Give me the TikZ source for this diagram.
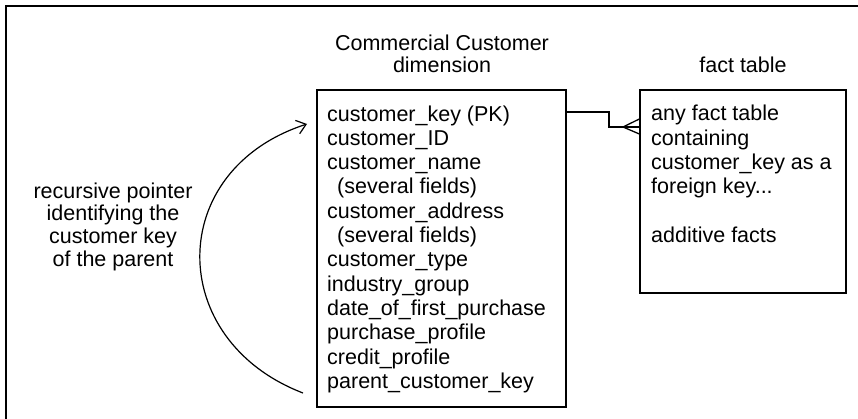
\documentclass[tikz,border=0pt]{standalone}
\usepackage{fontspec}
\setmainfont{Liberation Sans}
\usetikzlibrary{arrows.meta}

\tikzset{
  tablebox/.style={draw, line width=1.3pt, inner sep=0pt},
  tabletext/.style={anchor=base west, inner sep=0pt, align=left,
    font=\fontsize{21.5}{24.3}\selectfont},
  titletext/.style={anchor=base, inner sep=0pt, align=center,
    font=\fontsize{21.5}{22.5}\selectfont},
}

\begin{document}
\begin{tikzpicture}[x=1pt, y=-1pt]

  \useasboundingbox (0,0) rectangle (858,419);

  % Outer frame
  \draw[line width=2pt] (6,419) -- (6,6) -- (858,6);

  % Titles (base = last line)
  \node[titletext] (dimtitle) at (442, 73) {Commercial Customer\\dimension};
  \node[titletext] (facttitle) at (743, 73) {fact table};

  % Dimension box
  \node[tablebox, minimum width=249pt, minimum height=317pt] (dim) at (441.5, 248.5) {};
  \node[tabletext] (dimtext) at (327, 388.3) {customer\_key (PK)\\
    customer\_ID\\
    customer\_name\\
    \hspace{10pt}(several fields)\\
    customer\_address\\
    \hspace{10pt}(several fields)\\
    customer\_type\\
    industry\_group\\
    date\_of\_first\_purchase\\
    purchase\_profile\\
    credit\_profile\\
    parent\_customer\_key};

  % Fact box
  \node[tablebox, minimum width=206pt, minimum height=203pt] (fact) at (743, 191.5) {};
  \node[tabletext] (facttext) at (651, 242.5) {any fact table\\
    containing\\
    customer\_key as a\\
    foreign key...\\[24.3pt]
    additive facts};

  % Foreign key link with crow's foot
  \coordinate (crow) at (623, 127);
  \draw[line width=1.3pt] (dim.east |- 0,112) -- (609,112) -- (609,127) -- (fact.west |- 0,127);
  \draw[line width=1.3pt] (fact.west |- 0,119) -- (crow) -- (fact.west |- 0,134);

  % Recursive pointer
  \coordinate (recstart) at (303, 393);
  \coordinate (recend) at (307, 124);
  \draw[line width=1.2pt, -{Straight Barb[length=9pt, width=14pt]}]
    (recstart) .. controls (165, 340) and (165, 170) .. (recend);
  \node[titletext] (reclabel) at (113, 266) {recursive pointer\\
    identifying the\\
    customer key\\
    of the parent};

\end{tikzpicture}
\end{document}
